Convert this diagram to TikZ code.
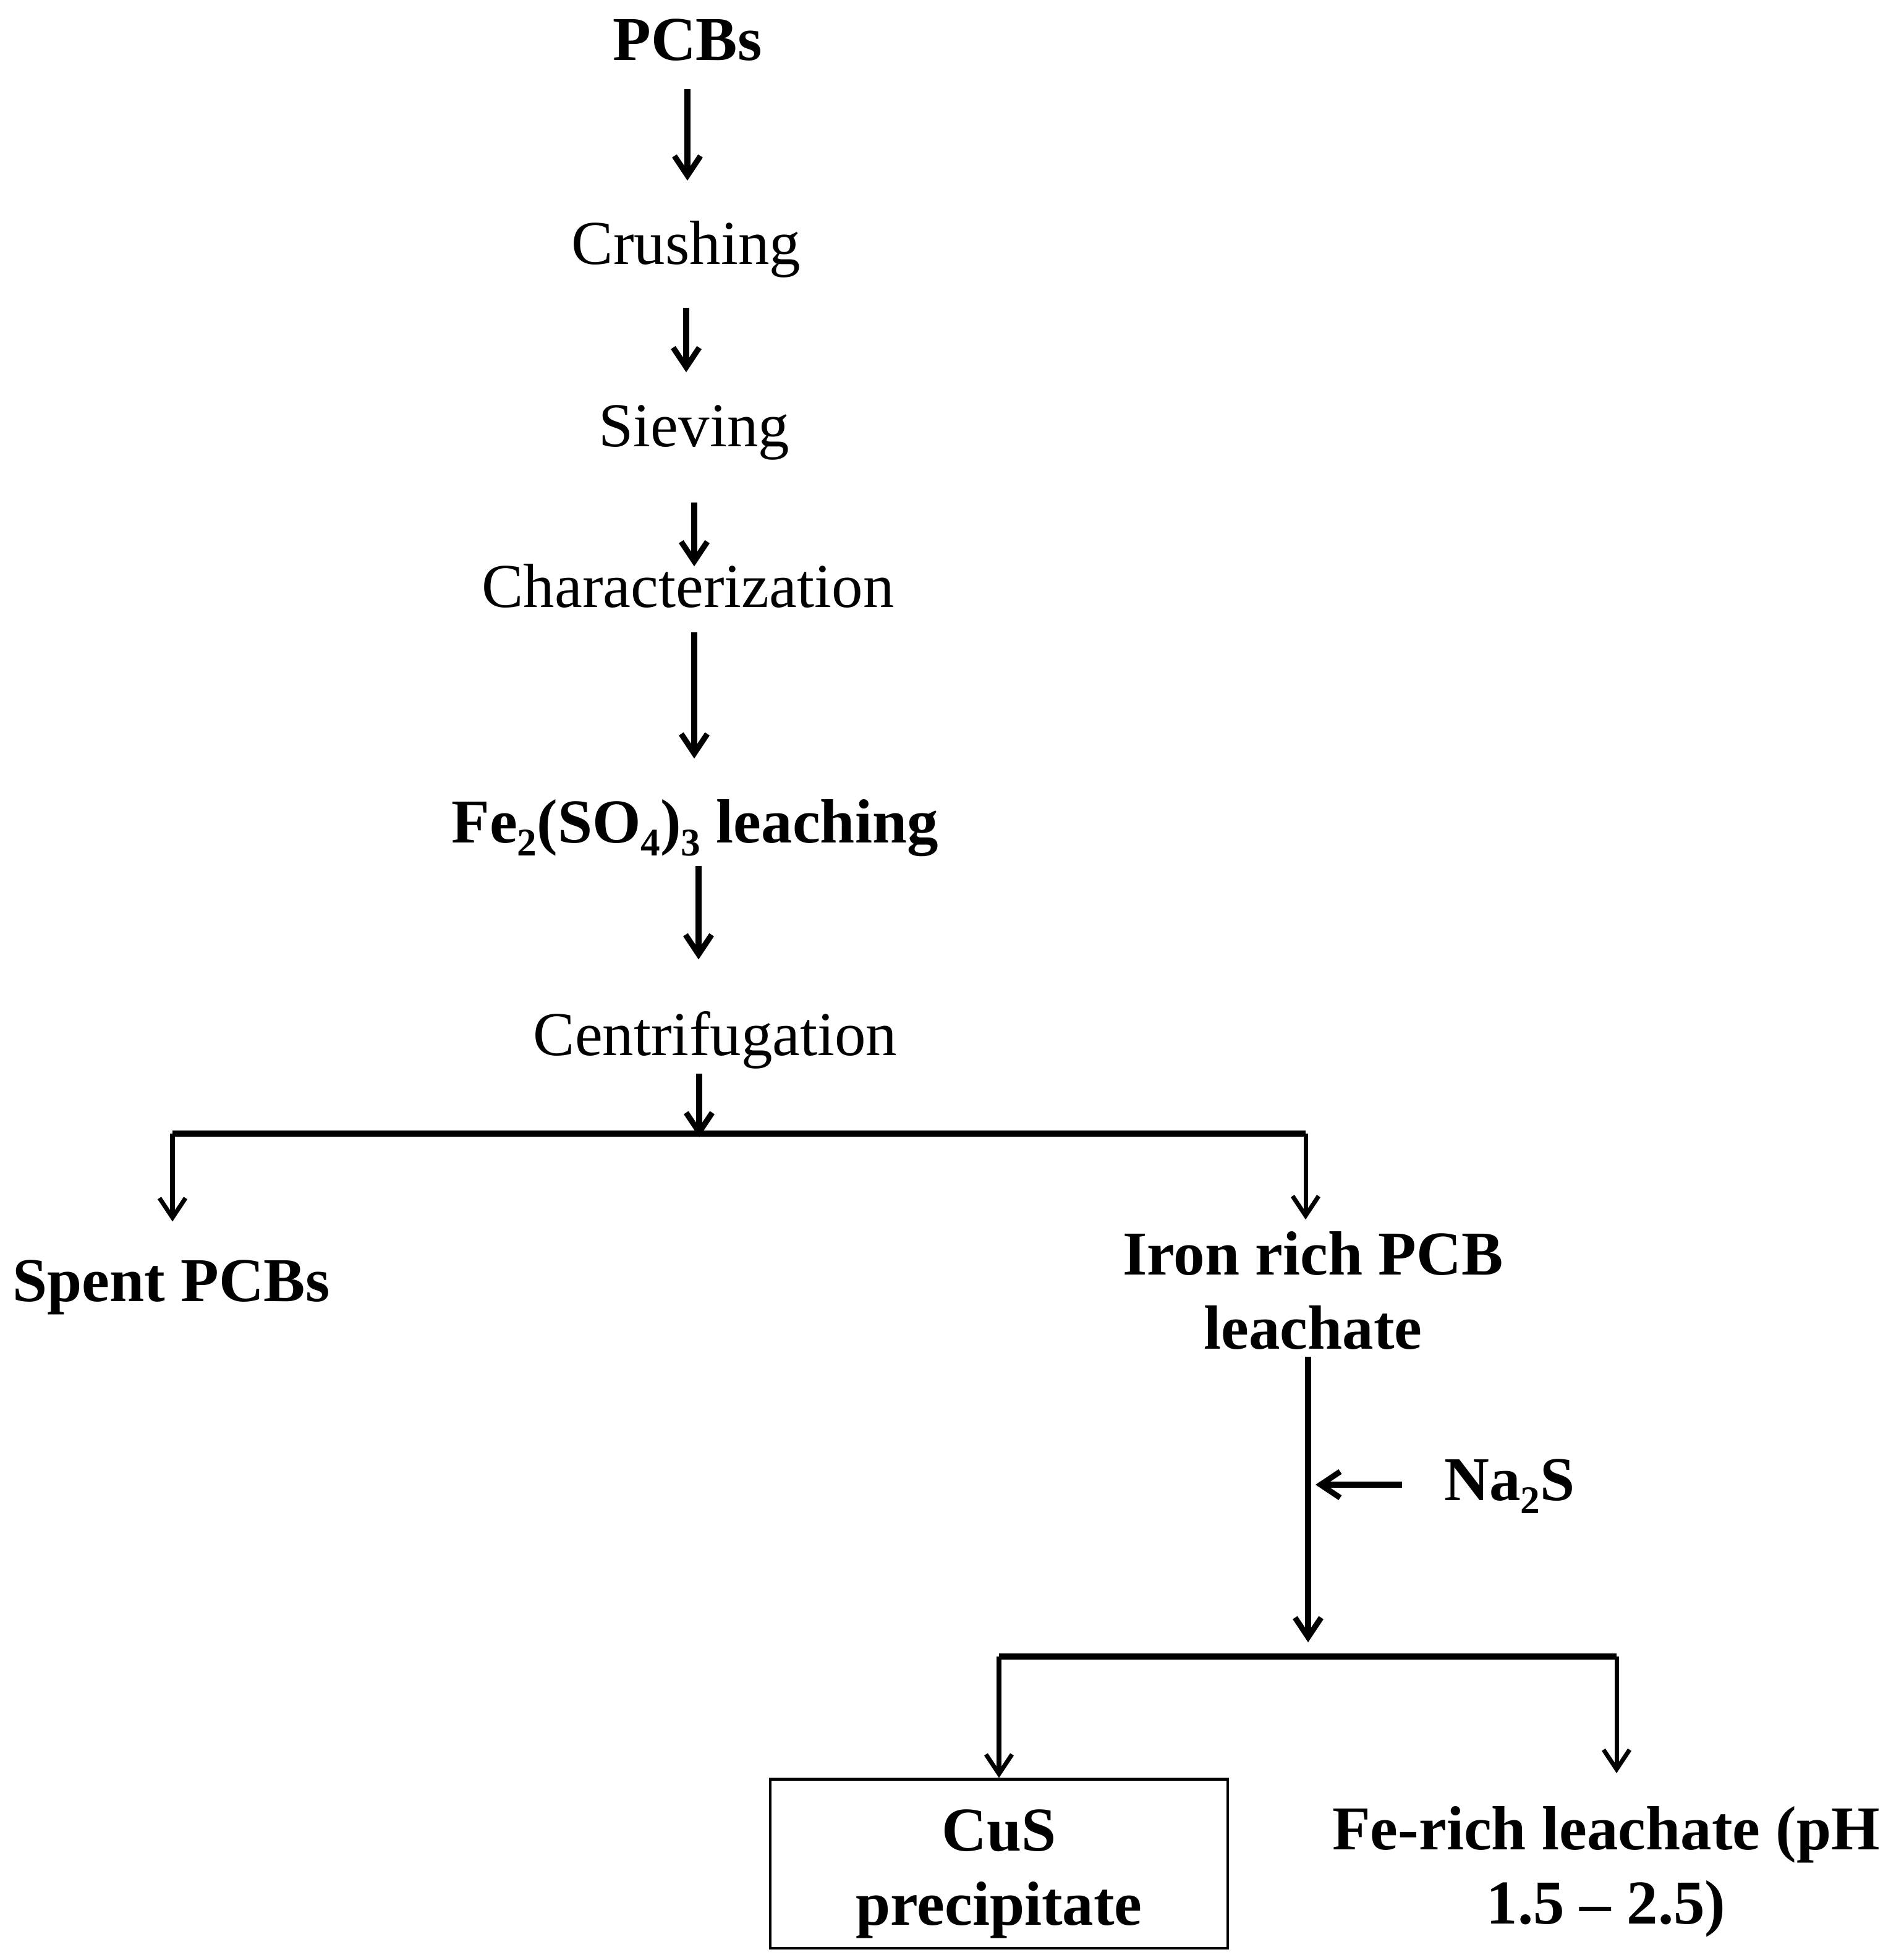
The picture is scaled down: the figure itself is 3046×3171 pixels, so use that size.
\documentclass[tikz,border=0pt]{standalone}
\usepackage{fontspec}
\setmainfont{Liberation Serif}
\usetikzlibrary{arrows.meta}
\newcommand{\lowsub}[1]{\raisebox{-0.21em}{\fontsize{18}{18}\selectfont #1}}

\begin{document}
\begin{tikzpicture}[x=0.01cm, y=-0.01cm, font=\fontsize{28.7}{34}\selectfont,
    flow/.style={-{Straight Barb[length=9pt,width=12pt]}, line width=2.6pt},
    branch/.style={flow, line width=2pt},
    bar/.style={line width=2.9pt},
    stage/.style={inner sep=0pt, text height=0.7cm, text depth=0.2cm, anchor=base},
    key/.style={stage, font=\fontsize{28.7}{34}\selectfont\bfseries},
    multi/.style={inner sep=0pt, align=center, font=\fontsize{28.7}{34}\selectfont\bfseries}]

  \useasboundingbox (0,0) rectangle (3046,3171);

  \node[key]   (pcbs)   at (1112,97)   {PCBs};
  \node[stage] (crush)  at (1110,427)  {Crushing};
  \node[stage] (sieve)  at (1123,722)  {Sieving};
  \node[stage] (charac) at (1113,982)  {Characterization};
  \node[key]   (leach)  at (1124,1363) {Fe\lowsub{2}(SO\lowsub{4})\lowsub{3} leaching};
  \node[stage] (centr)  at (1157,1707) {Centrifugation};
  \node[key]   (spent)  at (277,2105)  {Spent PCBs};
  \node[multi] (iron)   at (2124,2088) {Iron rich PCB\\leachate};
  \node[key]   (na2s)   at (2442,2427) {Na\lowsub{2}S};
  \node[multi, draw, line width=1.2pt, minimum width=7.39cm, minimum height=2.73cm]
               (cus)    at (1616,3015) {\rule{0pt}{1cm}CuS\\precipitate};
  \node[multi] (ferich) at (2598,3028) {Fe-rich leachate (pH\\1.5 – 2.5)};

  \coordinate (fork)  at (1131,1834);
  \coordinate (forkL) at (279,1834);
  \coordinate (forkR) at (2112,1834);
  \coordinate (join)  at (2116,2680);
  \coordinate (joinL) at (1616,2680);
  \coordinate (joinR) at (2615,2680);

  \draw[flow, shorten <=.26cm, shorten >=.64cm] (pcbs.south) -- (pcbs.south |- crush.north);
  \draw[flow, shorten <=.5cm, shorten >=.49cm] (crush.south) -- (crush.south |- sieve.north);
  \draw[flow, shorten <=.7cm, shorten >=-.05cm] (sieve.south) -- (sieve.south |- charac.north);
  \draw[flow, shorten <=.2cm, shorten >=.65cm] ([xshift=.1cm]charac.south) -- ([xshift=.1cm]charac.south |- leach.north);
  \draw[flow, shorten <=.17cm, shorten >=.84cm] ([xshift=.06cm]leach.south) -- ([xshift=.06cm]leach.south |- centr.north);
  \draw[flow, shorten <=.09cm, shorten >=-.06cm] (centr.south -| fork) -- (fork);

  \draw[bar] (forkL) -- (forkR);
  \draw[branch, shorten >=.58cm] (forkL) -- (forkL |- spent.north);
  \draw[branch, shorten >=.19cm] (forkR) -- (forkR |- iron.north);

  \draw[flow, shorten <=.11cm, shorten >=.23cm] (iron.south -| join) -- (join);
  \draw[flow, shorten <=.68cm, shorten >=.12cm] (na2s.west) -- (na2s.west -| join);

  \draw[bar] (joinL) -- (joinR);
  \draw[branch] (joinL) -- (cus.north);
  \draw[branch, shorten >=.53cm] (joinR) -- (joinR |- ferich.north);
\end{tikzpicture}
\end{document}
